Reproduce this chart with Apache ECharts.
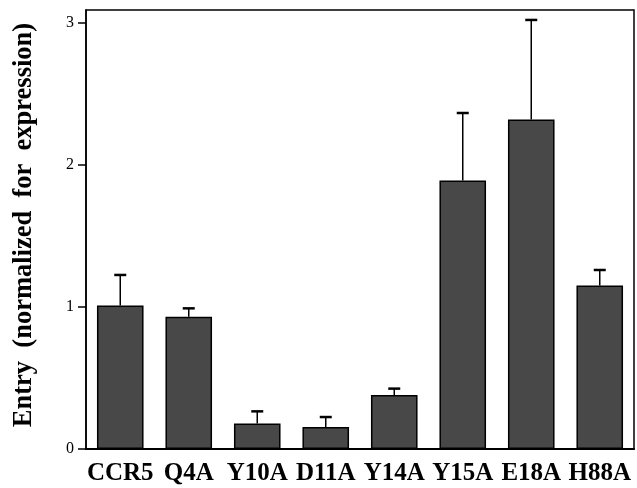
<!DOCTYPE html>
<html>
<head>
<meta charset="utf-8">
<script src="https://cdn.jsdelivr.net/npm/echarts@6/dist/echarts.min.js"></script>
<style>
  html, body { margin: 0; padding: 0; background: #fff; }
  #chart { width: 637px; height: 488px; }
</style>
</head>
<body>
<div id="chart"></div>
<script>
// Receptor variants and their normalized entry values
const categories = ['CCR5', 'Q4A', 'Y10A', 'D11A', 'Y14A', 'Y15A', 'E18A', 'H88A'];
const entryMeans = [1.01, 0.93, 0.18, 0.155, 0.38, 1.89, 2.32, 1.15];
const entryErrors = [0.215, 0.06, 0.085, 0.07, 0.045, 0.475, 0.70, 0.11];
const yTicks = [0, 1, 2, 3];
const yTitle = 'Entry  (normalized  for  expression)';

const serif = '"Liberation Serif", "DejaVu Serif", serif';

const chart = echarts.init(document.getElementById('chart'), null, { renderer: 'canvas' });

const errorData = categories.map((c, i) => [i, entryMeans[i], entryMeans[i] + entryErrors[i]]);

chart.setOption({
  animation: false,
  backgroundColor: '#fff',
  grid: {
    left: 86, right: 3, top: 10, bottom: 39,
    show: true, borderColor: '#000', borderWidth: 1.5, backgroundColor: 'transparent'
  },
  // rotated y-axis title
  graphic: [{
    type: 'text',
    x: 24,
    y: 225,
    rotation: Math.PI / 2,
    style: {
      text: yTitle,
      fill: '#000',
      font: 'bold 26.5px ' + serif,
      textAlign: 'center',
      textVerticalAlign: 'middle'
    }
  }],
  xAxis: {
    type: 'category',
    data: categories,
    axisLine: { lineStyle: { color: '#000', width: 2 } },
    axisTick: { alignWithLabel: true, interval: 0, length: 7, lineStyle: { color: '#000', width: 1.5 } },
    axisLabel: {
      interval: 0,
      color: '#000', fontFamily: serif, fontWeight: 'bold', fontSize: 25, margin: 12
    }
  },
  yAxis: {
    type: 'value',
    min: 0,
    max: 3.09,
    interval: 1,
    splitLine: { show: false },
    axisLine: { show: true, lineStyle: { color: '#000', width: 1.5 } },
    axisTick: { show: true, length: 8, customValues: yTicks, lineStyle: { color: '#000', width: 1.5 } },
    axisLabel: {
      customValues: yTicks,
      color: '#000', fontFamily: serif, fontSize: 16, margin: 12
    }
  },
  series: [
    {
      type: 'bar',
      data: entryMeans,
      barWidth: '68%',
      itemStyle: { color: '#484848', borderColor: '#000', borderWidth: 1.5 },
      z: 2
    },
    {
      type: 'custom',
      data: errorData,
      z: 3,
      renderItem: function (params, api) {
        const x = api.value(0);
        const base = api.coord([x, api.value(1)]);
        const top = api.coord([x, api.value(2)]);
        const half = 6;
        return {
          type: 'group',
          children: [
            {
              type: 'line',
              shape: { x1: base[0], y1: base[1], x2: top[0], y2: top[1] },
              style: { stroke: '#000', lineWidth: 1.5 }
            },
            {
              type: 'line',
              shape: { x1: top[0] - half, y1: top[1], x2: top[0] + half, y2: top[1] },
              style: { stroke: '#000', lineWidth: 2.5 }
            }
          ]
        };
      }
    }
  ]
});
</script>
</body>
</html>
